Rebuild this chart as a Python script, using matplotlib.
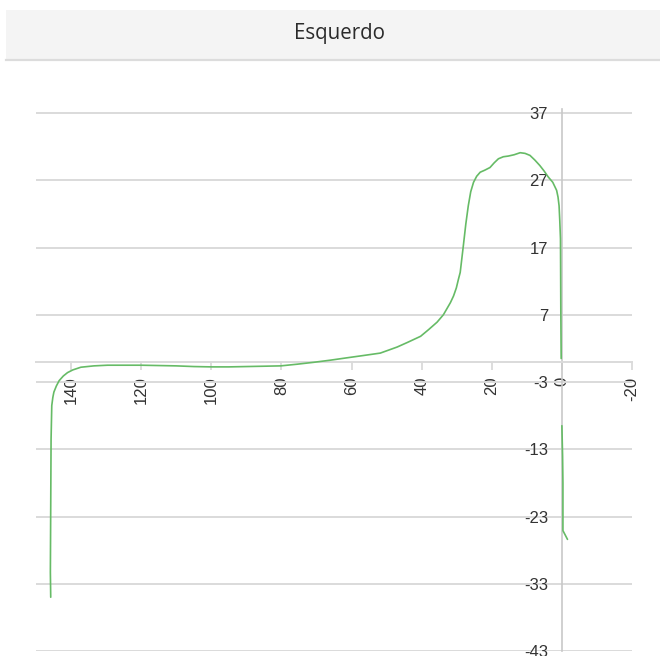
import numpy as np
import matplotlib
matplotlib.use("Agg")
import matplotlib.pyplot as plt
from matplotlib.patches import Rectangle
from matplotlib.lines import Line2D

# Profile of the left side ("Esquerdo"): position vs. value
profile_x = [145.8, 145.9, 145.8, 145.7, 145.5, 145.2, 144.9, 144.2, 143.4, 142.2,
             141.0, 139.5, 137.2, 133.5, 129.6, 125.0, 120.1, 115.0, 110.0, 105.0,
             100.0, 95.0, 90.0, 85.0, 80.2, 75.5, 70.8, 66.0, 61.3, 56.5,
             51.8, 47.0, 44.0, 40.3, 38.0, 35.6, 33.8, 32.8, 31.8, 30.9,
             30.1, 29.5, 29.0, 28.1, 27.4, 26.7, 26.0, 25.2, 24.3, 23.3,
             22.0, 20.5, 19.3, 18.1, 16.7, 15.3, 13.6, 11.9, 10.5, 9.1,
             7.7, 6.3, 5.1, 3.9, 2.6, 1.5, 1.1, 0.8, 0.6, 0.4,
             0.35, 0.3, 0.2, np.nan, 0.0, -0.2, -0.3, -0.3, -1.6]
profile_y = [-35.0, -31.3, -21.4, -11.5, -6.5, -5.3, -4.5, -3.6, -2.8, -2.1,
             -1.6, -1.2, -0.8, -0.6, -0.5, -0.5, -0.5, -0.55, -0.6, -0.7,
             -0.75, -0.75, -0.7, -0.65, -0.6, -0.35, -0.07, 0.25, 0.6, 0.95,
             1.3, 2.2, 2.9, 3.8, 4.8, 5.9, 7.0, 7.9, 8.8, 9.8,
             11.0, 12.3, 13.3, 17.3, 20.5, 23.2, 25.3, 26.7, 27.6, 28.2,
             28.5, 28.9, 29.6, 30.2, 30.5, 30.6, 30.8, 31.1, 31.0, 30.7,
             30.0, 29.2, 28.4, 27.5, 26.7, 25.5, 24.5, 23.2, 21.0, 18.3,
             13.0, 7.4, 0.5, np.nan, -9.5, -14.0, -18.0, -25.1, -26.4]

x_ticks = [140, 120, 100, 80, 60, 40, 20, 0, -20]
y_ticks = [37, 27, 17, 7, -3, -13, -23, -33, -43]

title = "Esquerdo"

W, H = 660, 656
fig = plt.figure(figsize=(W / 100, H / 100), dpi=100)
fig.patch.set_facecolor("white")

# Header bar
fig.patches.append(Rectangle((6 / W, 1 - 59 / H), (W - 6) / W, 49 / H,
                             transform=fig.transFigure, facecolor="#f4f4f4",
                             edgecolor="none", zorder=0))
fig.lines.append(Line2D([6 / W, 1], [1 - 59.5 / H, 1 - 59.5 / H],
                        transform=fig.transFigure, color="#dcdcdc", lw=1.6))
fig.text(339 / W, 1 - 33 / H, title, ha="center", va="center",
         fontsize=14.8, color="#2b2b2b", family=["Open Sans", "DejaVu Sans"])

ax = fig.add_axes([36 / W, 5 / H, 596 / W, 542 / H])
ax.set_facecolor("none")

grid_col = "#dadada"
ax.plot(profile_x, profile_y, color="#66bb66", lw=1.2, zorder=3,
        solid_joinstyle="round", solid_capstyle="round")

ax.set_xlim(150, -20)
ax.set_ylim(-43, 37.6)

ax.set_xticks(x_ticks)
ax.set_xticklabels([str(v) for v in x_ticks])
ax.set_yticks(y_ticks)
ax.set_yticklabels([str(v) for v in y_ticks])

ax.yaxis.grid(True, color=grid_col, lw=1.4)
ax.xaxis.grid(False)
ax.set_axisbelow(True)

for s in ["top", "right"]:
    ax.spines[s].set_visible(False)
ax.spines["left"].set_position(("data", 0))
ax.spines["bottom"].set_position(("data", 0))
ax.spines["left"].set_color("#c8c8c8")
ax.spines["left"].set_linewidth(1.2)
ax.spines["bottom"].set_color(grid_col)
ax.spines["bottom"].set_linewidth(1.4)
ax.spines["left"].set_zorder(2)

ax.tick_params(axis="y", length=0, pad=10, labelsize=12, labelcolor="#333333")
ax.tick_params(axis="x", direction="out", length=6, width=1.3, color=grid_col,
               pad=4.5, labelsize=12, labelcolor="#333333", labelrotation=90)
for lab in ax.get_xticklabels() + ax.get_yticklabels():
    lab.set_family(["Liberation Sans", "DejaVu Sans"])

fig.savefig("out.png", dpi=100)
